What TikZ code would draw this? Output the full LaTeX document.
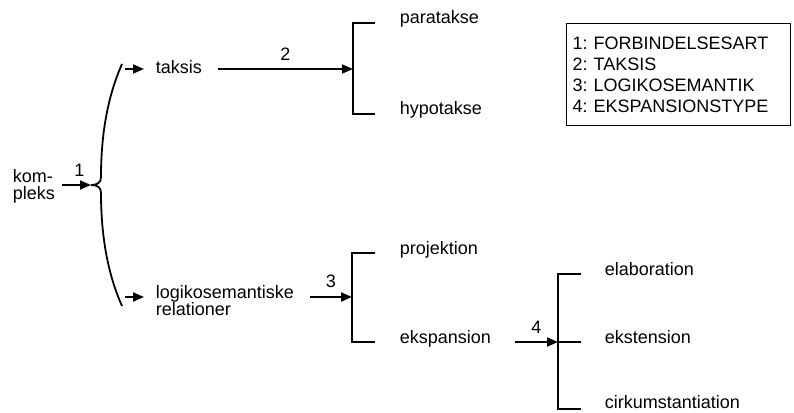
\documentclass[tikz,border=0pt]{standalone}
\usepackage{fontspec}
\setmainfont{Liberation Sans}
\usetikzlibrary{arrows.meta}
\begin{document}
\frenchspacing
\begin{tikzpicture}[x=1pt,y=-1pt,line width=1.8pt,
  lbl/.style={font=\fontsize{18}{17}\selectfont,inner sep=0pt},
  num/.style={font=\fontsize{18}{17}\selectfont,inner sep=0pt,above=8pt},
  arr/.style={-{Triangle[length=11pt,width=9pt]}},
  brk/.style={line join=miter,line cap=butt}]
\useasboundingbox (0,0) rectangle (794,412);
% text nodes
\node[lbl,anchor=west,align=left] (kom) at (12,186) {kom-\\pleks};
\node[lbl,anchor=base west] (taksis) at (155,74) {taksis};
\node[lbl,anchor=base west,align=left] (logik) at (155,315) {logikosemantiske\\relationer};
\node[lbl,anchor=base west] (para) at (399,24) {paratakse};
\node[lbl,anchor=base west] (hypo) at (399,114) {hypotakse};
\node[lbl,anchor=base west] (proj) at (399,254) {projektion};
\node[lbl,anchor=base west] (eksp) at (399,343) {ekspansion};
\node[lbl,anchor=base west] (elab) at (604,275) {elaboration};
\node[lbl,anchor=base west] (ekst) at (604,343) {ekstension};
\node[lbl,anchor=base west] (cirk) at (604,408.5) {cirkumstantiation};
% legend
\node[draw,line width=1.3pt,anchor=north west,align=left,
      font=\fontsize{18}{21}\selectfont\frenchspacing,inner xsep=6pt,inner ysep=3pt,
      text width=212pt,minimum height=102pt] (legend) at (566,23)
  {1: FORBINDELSESART\\2: TAKSIS\\3: LOGIKOSEMANTIK\\4: EKSPANSIONSTYPE};
% brace
\coordinate (b1) at (91,185);
\coordinate (btop) at (122,64);
\coordinate (bbot) at (122,306);
\draw (b1) .. controls (97,185) and (101,183) .. (101,177)
           .. controls (101,140) and (106,100) .. (btop);
\draw (b1) .. controls (97,185) and (101,187) .. (101,193)
           .. controls (101,230) and (106,270) .. (bbot);
% arrow 1
\draw[arr] ([xshift=6pt]kom.east |- b1) -- node[num,pos=0.6]{1} (b1);
% arrows into taksis / logik
\coordinate (t0) at (125,69);
\coordinate (l0) at (125,297);
\draw[arr] (t0) -- ([xshift=-11pt]t0 -| taksis.west);
\draw[arr] (l0) -- ([xshift=-11pt]l0 -| logik.west);
% bracket 2
\coordinate (p2) at (353,69);
\draw[brk] (375,23) -- (353,23) -- (353,114) -- (375,114);
\draw[arr] ([xshift=15pt]p2 -| taksis.east) -- node[num]{2} (p2);
% bracket 3
\coordinate (p3) at (352,297);
\draw[brk] (375,253) -- (352,253) -- (352,342) -- (375,342);
\draw[arr] ([xshift=15pt]p3 -| logik.east) -- node[num]{3} (p3);
% bracket 4
\coordinate (p4) at (558,342);
\draw[brk] (581,274) -- (558,274) -- (558,409) -- (581,409);
\draw (p4) -- (581,342);
\draw[arr] ([xshift=23pt]p4 -| eksp.east) -- node[num]{4} (p4);
\end{tikzpicture}
\end{document}
